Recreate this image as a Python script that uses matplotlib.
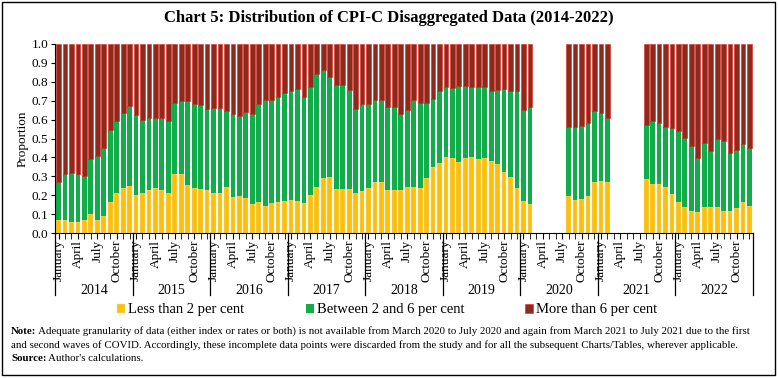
import matplotlib
matplotlib.use('Agg')
import matplotlib.pyplot as plt
import matplotlib.transforms as mtransforms
import numpy as np

plt.rcParams['font.family'] = 'Liberation Serif'

years = ['2014', '2015', '2016', '2017', '2018', '2019', '2020', '2021', '2022']
month_labels = ['January', 'April', 'July', 'October']
nan = np.nan

# share of items, month by month (Jan 2014 .. Dec 2022); gaps = no data
less2 = [
    0.07, 0.07, 0.06, 0.06, 0.07, 0.10, 0.07, 0.09, 0.165, 0.21, 0.24, 0.25,
    0.20, 0.21, 0.225, 0.24, 0.225, 0.21, 0.31, 0.31, 0.255, 0.24, 0.235, 0.225,
    0.21, 0.21, 0.245, 0.19, 0.195, 0.185, 0.155, 0.165, 0.145, 0.16, 0.165, 0.17,
    0.175, 0.17, 0.16, 0.20, 0.245, 0.29, 0.295, 0.235, 0.235, 0.235, 0.21, 0.22,
    0.24, 0.27, 0.27, 0.225, 0.225, 0.225, 0.245, 0.245, 0.24, 0.29, 0.35, 0.37,
    0.40, 0.395, 0.375, 0.395, 0.40, 0.39, 0.395, 0.38, 0.365, 0.325, 0.295, 0.24,
    0.17, 0.155, nan, nan, nan, nan, nan, 0.195, 0.175, 0.18, 0.195, 0.27,
    0.275, 0.27, nan, nan, nan, nan, nan, 0.285, 0.26, 0.26, 0.245, 0.205,
    0.165, 0.135, 0.115, 0.11, 0.135, 0.135, 0.14, 0.115, 0.115, 0.13, 0.165, 0.145,
]
between = [
    0.20, 0.24, 0.26, 0.25, 0.23, 0.29, 0.34, 0.36, 0.38, 0.38, 0.395, 0.42,
    0.425, 0.39, 0.385, 0.37, 0.385, 0.38, 0.38, 0.39, 0.445, 0.44, 0.44, 0.43,
    0.45, 0.45, 0.40, 0.44, 0.425, 0.455, 0.475, 0.515, 0.56, 0.545, 0.555, 0.57,
    0.575, 0.59, 0.56, 0.57, 0.595, 0.57, 0.53, 0.55, 0.55, 0.52, 0.445, 0.465,
    0.445, 0.435, 0.435, 0.44, 0.44, 0.405, 0.405, 0.46, 0.45, 0.40, 0.36, 0.38,
    0.375, 0.37, 0.405, 0.385, 0.375, 0.38, 0.375, 0.37, 0.39, 0.435, 0.455, 0.51,
    0.48, 0.51, nan, nan, nan, nan, nan, 0.365, 0.385, 0.385, 0.385, 0.375,
    0.36, 0.34, nan, nan, nan, nan, nan, 0.285, 0.335, 0.32, 0.315, 0.35,
    0.375, 0.37, 0.345, 0.285, 0.34, 0.30, 0.355, 0.37, 0.31, 0.31, 0.305, 0.305,
]
more6 = [
    0.73, 0.69, 0.68, 0.69, 0.70, 0.61, 0.59, 0.55, 0.455, 0.41, 0.365, 0.33,
    0.375, 0.40, 0.39, 0.39, 0.39, 0.41, 0.31, 0.30, 0.30, 0.32, 0.325, 0.345,
    0.34, 0.34, 0.355, 0.37, 0.38, 0.36, 0.37, 0.32, 0.295, 0.295, 0.28, 0.26,
    0.25, 0.24, 0.28, 0.23, 0.16, 0.14, 0.175, 0.215, 0.215, 0.245, 0.345, 0.315,
    0.315, 0.295, 0.295, 0.335, 0.335, 0.37, 0.35, 0.295, 0.31, 0.31, 0.29, 0.25,
    0.225, 0.235, 0.22, 0.22, 0.225, 0.23, 0.23, 0.25, 0.245, 0.24, 0.25, 0.25,
    0.35, 0.335, nan, nan, nan, nan, nan, 0.44, 0.44, 0.435, 0.42, 0.355,
    0.365, 0.39, nan, nan, nan, nan, nan, 0.43, 0.405, 0.42, 0.44, 0.445,
    0.46, 0.495, 0.54, 0.605, 0.525, 0.565, 0.505, 0.515, 0.575, 0.56, 0.53, 0.55,
]

c_less, c_btw, c_more = '#FFC000', '#12AD4B', '#8C2B1D'

fig = plt.figure(figsize=(7.78, 3.78), dpi=100)
ax = fig.add_axes([55 / 778, 1 - 233 / 378, 698 / 778, 189 / 378])

x = np.arange(len(less2))
a = np.array(less2)
b = np.array(between)
c = np.array(more6)
w = 0.74
ax.bar(x, a, w, color=c_less, edgecolor='#D6E2F2', linewidth=0.3, label='Less than 2 per cent')
ax.bar(x, b, w, bottom=a, color=c_btw, linewidth=0, label='Between 2 and 6 per cent')
ax.bar(x, c, w, bottom=a + b, color=c_more, edgecolor='#E0231B', linewidth=0.4,
       label='More than 6 per cent')

ax.set_xlim(-0.55, len(less2) - 0.45)
ax.set_ylim(0, 1)
ax.set_yticks(np.arange(0, 1.01, 0.1))
ax.set_yticklabels([f'{v:.1f}' for v in np.arange(0, 1.01, 0.1)], fontsize=9.5)
ax.set_ylabel('Proportion', fontsize=9.5, labelpad=2)
ax.tick_params(axis='y', length=3, pad=2)

# month ticks + quarter labels
ax.set_xticks(x, minor=True)
major = [12 * i + m for i in range(len(years)) for m in (0, 3, 6, 9)]
ax.set_xticks(major)
ax.set_xticklabels(month_labels * len(years), rotation=90, fontsize=9.5)
ax.tick_params(axis='x', which='both', length=4, direction='out', pad=1)

for s in ['top', 'right']:
    ax.spines[s].set_visible(False)

trans = mtransforms.blended_transform_factory(ax.transData, ax.transAxes)
for i in range(len(years) + 1):
    ax.plot([12 * i - 0.5] * 2, [0, -0.33], color='black', lw=0.9,
            transform=trans, clip_on=False)
for i, yr in enumerate(years):
    ax.text(12 * i + 5.5, -0.305, yr, transform=trans, ha='center', va='center',
            fontsize=10)

fig.suptitle('Chart 5: Distribution of CPI-C Disaggregated Data (2014-2022)',
             y=1 - 18 / 378, va='center', fontsize=12, fontweight='bold')

fig.legend(loc='center', bbox_to_anchor=(0.498, 1 - 310 / 378), ncol=3,
           frameon=False, fontsize=10.5, handlelength=0.55, handleheight=0.55,
           handletextpad=0.2, columnspacing=4.2)

# notes with bold lead words
fs = 7.8
t1 = fig.text(11 / 778, 1 - 332 / 378, 'Note:', fontsize=fs, fontweight='bold', va='center')
ax.annotate(' Adequate granularity of data (either index or rates or both) is not available from '
            'March 2020 to July 2020 and again from March 2021 to July 2021 due to the first',
            xy=(1, 0), xycoords=t1, va='bottom', fontsize=fs, annotation_clip=False)
fig.text(11 / 778, 1 - 345.5 / 378,
         'and second waves of COVID. Accordingly, these incomplete data points were discarded '
         'from the study and for all the subsequent Charts/Tables, wherever applicable.',
         fontsize=fs, va='center')
t2 = fig.text(11 / 778, 1 - 358.5 / 378, 'Source:', fontsize=fs, fontweight='bold', va='center')
ax.annotate(" Author's calculations.", xy=(1, 0), xycoords=t2, va='bottom', fontsize=fs,
            annotation_clip=False)

fig.patches.append(plt.Rectangle((2 / 778, 3 / 378), 773 / 778, 373 / 378, fill=False,
                                 edgecolor='black', lw=1, transform=fig.transFigure))

fig.savefig('out.png', dpi=100)
